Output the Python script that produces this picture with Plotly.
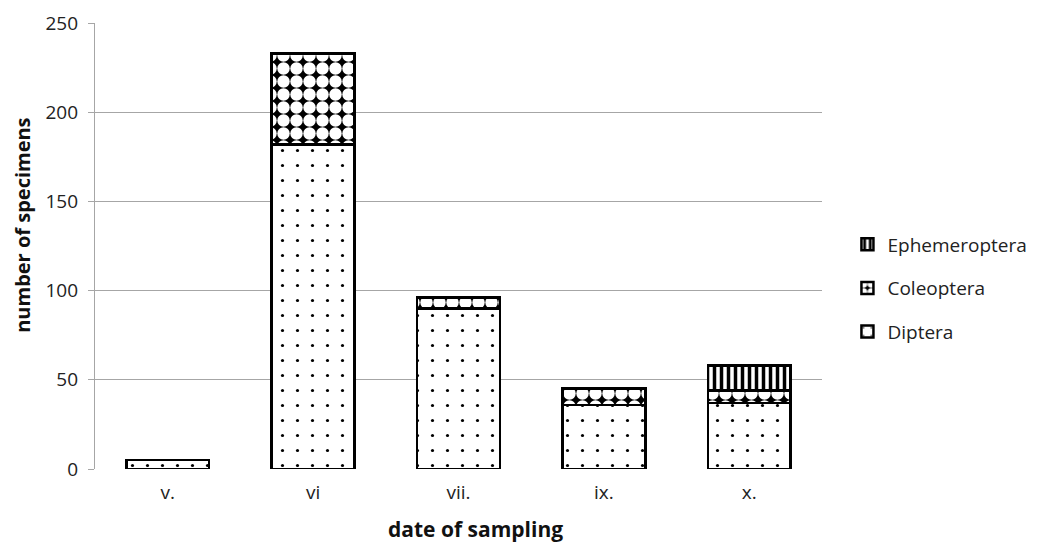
import plotly.graph_objects as go

categories = ["v.", "vi", "vii.", "ix.", "x."]
diptera = [5, 182, 90, 36, 37]
coleoptera = [0, 51, 6, 9, 7]
ephemeroptera = [0, 0, 0, 0, 14]
y_ticks = [0, 50, 100, 150, 200, 250]

fig = go.Figure()
line = dict(color="black", width=2.5)
fig.add_trace(go.Bar(
    x=categories, y=diptera, name="Diptera", legendgroup="a", legendrank=3,
    marker=dict(color="white", line=line,
                pattern=dict(shape=".", fgcolor="black", bgcolor="white",
                             fillmode="replace", size=15, solidity=0.035)),
))
fig.add_trace(go.Bar(
    x=categories, y=coleoptera, name="Coleoptera", legendgroup="b", legendrank=2,
    marker=dict(color="black", line=line,
                pattern=dict(shape=".", fgcolor="white", bgcolor="black",
                             fillmode="replace", size=13, solidity=0.72)),
))
fig.add_trace(go.Bar(
    x=categories, y=ephemeroptera, name="Ephemeroptera", legendgroup="c", legendrank=1,
    marker=dict(color="white", line=line,
                pattern=dict(shape="|", fgcolor="black", bgcolor="white",
                             fillmode="replace", size=7, solidity=0.5)),
))

fig.update_layout(
    barmode="stack",
    bargap=0.43,
    width=1041, height=545,
    margin=dict(l=87, r=227, t=15, b=84),
    plot_bgcolor="white", paper_bgcolor="white",
    font=dict(family="Open Sans, Liberation Sans, sans-serif", color="#222222", size=19),
    legend=dict(x=1.035, xanchor="left", y=0.405, yanchor="middle",
                traceorder="grouped", tracegroupgap=16,
                font=dict(size=19, color="#222222")),
    xaxis=dict(
        automargin=False,
        showline=False, ticks="outside", ticklen=6, tickcolor="white",
        tickfont=dict(size=19),
    ),
    yaxis=dict(
        automargin=False,
        range=[0, 250], tickvals=y_ticks,
        showgrid=True, gridcolor="#a6a6a6", gridwidth=1.3,
        showline=True, linecolor="#a6a6a6", linewidth=1.3,
        ticks="outside", ticklen=6, tickcolor="#a6a6a6",
        ticklabelstandoff=6,
        tickfont=dict(size=19), zeroline=False,
    ),
    annotations=[
        dict(text="<b>date of sampling</b>", xref="paper", yref="paper",
             x=0.524, y=-0.134, xanchor="center", yanchor="middle", showarrow=False,
             font=dict(size=21, color="#111111")),
        dict(text="<b>number of specimens</b>", xref="paper", yref="paper",
             x=-0.1, y=0.546, xanchor="center", yanchor="middle", showarrow=False,
             textangle=-90, font=dict(size=20, color="#111111")),
    ],
)

fig.write_html("out.html")
